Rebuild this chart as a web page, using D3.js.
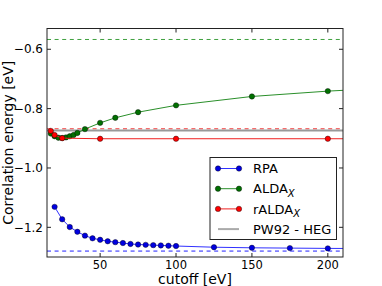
<!DOCTYPE html>
<html>
<head>
<meta charset="utf-8">
<script src="https://cdn.jsdelivr.net/npm/d3@7"></script>
<style>
  body { margin: 0; background: #fff; }
  svg text { font-family: "DejaVu Sans", sans-serif; fill: #000; }
</style>
</head>
<body>
<div id="chart"></div>
<script>
// cutoff energies [eV] and correlation energies [eV]
const rpaCutoff = [20, 25, 30, 35, 40, 45, 50, 55, 60, 65, 70, 75, 80, 85, 90, 95, 100, 125, 150, 175, 200, 250];
const rpaEnergy = [-1.131, -1.173, -1.199, -1.215, -1.228, -1.237, -1.242, -1.247, -1.250, -1.253, -1.256,
                   -1.258, -1.259, -1.260, -1.261, -1.262, -1.263, -1.267, -1.269, -1.270, -1.271, -1.272];

const aldaCutoff = [17.5, 20, 22.5, 25, 27.5, 30, 32.5, 35, 40, 50, 60, 75, 100, 150, 200, 250];
const aldaEnergy = [-0.884, -0.893, -0.898, -0.899, -0.897, -0.893, -0.889, -0.882, -0.869, -0.848,
                    -0.831, -0.812, -0.789, -0.759, -0.741, -0.728];

const raldaCutoff = [17.5, 20, 25, 50, 100, 200, 250];
const raldaEnergy = [-0.875, -0.889, -0.8995, -0.9015, -0.9015, -0.9015, -0.9015];

// extrapolated values (dashed) and the HEG reference
const rpaExtrap = -1.280;
const aldaExtrap = -0.567;
const raldaExtrap = -0.868;
const pw92 = -0.874;

const xTicks = [50, 100, 150, 200];
const yTicks = [-1.2, -1.0, -0.8, -0.6];

const width = 382, height = 286;
const margin = { top: 28.5, right: 39, bottom: 29, left: 47 };
const iw = width - margin.left - margin.right;
const ih = height - margin.top - margin.bottom;

const svg = d3.select('#chart').append('svg')
    .attr('width', width)
    .attr('height', height);

svg.append('defs').append('clipPath')
    .attr('id', 'plotclip')
    .append('rect')
    .attr('width', iw)
    .attr('height', ih);

const g = svg.append('g').attr('transform', `translate(${margin.left},${margin.top})`);

const x = d3.scaleLinear().domain([15, 210]).range([0, iw]);
const y = d3.scaleLinear().domain([-1.3, -0.53]).range([ih, 0]);

const plot = g.append('g').attr('clip-path', 'url(#plotclip)');

// dashed extrapolation lines + reference line
const hlines = [
    { v: aldaExtrap, color: '#3fa03f', dash: '4,3.6', w: 1 },
    { v: raldaExtrap, color: '#f03030', dash: '4,3.6', w: 1 },
    { v: pw92, color: '#999', dash: null, w: 2 },
    { v: rpaExtrap, color: '#2020ff', dash: '4,3.6', w: 1 }
];
hlines.forEach(h => {
    plot.append('line')
        .attr('x1', 0).attr('x2', iw)
        .attr('y1', y(h.v)).attr('y2', y(h.v))
        .attr('stroke', h.color)
        .attr('stroke-width', h.w)
        .attr('stroke-dasharray', h.dash);
});

const series = [
    { name: 'RPA', xs: rpaCutoff, ys: rpaEnergy, line: '#3030ff', fill: '#0000e0' },
    { name: 'ALDA', xs: aldaCutoff, ys: aldaEnergy, line: '#2a8f2a', fill: '#007000' },
    { name: 'rALDA', xs: raldaCutoff, ys: raldaEnergy, line: '#f02020', fill: '#ff0000' }
];

const line = d3.line().x(d => x(d[0])).y(d => y(d[1]));

series.forEach(s => {
    const pts = s.xs.map((c, i) => [c, s.ys[i]]);
    plot.append('path')
        .attr('d', line(pts))
        .attr('fill', 'none')
        .attr('stroke', s.line)
        .attr('stroke-width', 1);
    plot.selectAll(null)
        .data(pts)
        .enter().append('circle')
        .attr('cx', d => x(d[0]))
        .attr('cy', d => y(d[1]))
        .attr('r', 2.7)
        .attr('fill', s.fill)
        .attr('stroke', '#000')
        .attr('stroke-width', 0.4);
});

// frame
g.append('rect')
    .attr('width', iw).attr('height', ih)
    .attr('fill', 'none')
    .attr('stroke', '#222')
    .attr('stroke-width', 1);

// ticks inward on all four sides
const tl = 4;
xTicks.forEach(t => {
    g.append('line').attr('x1', x(t)).attr('x2', x(t)).attr('y1', ih).attr('y2', ih - tl).attr('stroke', '#222');
    g.append('line').attr('x1', x(t)).attr('x2', x(t)).attr('y1', 0).attr('y2', tl).attr('stroke', '#222');
    g.append('text')
        .attr('x', x(t)).attr('y', ih + 11.5)
        .attr('text-anchor', 'middle')
        .style('font-size', '11.5px')
        .text(d3.format('d')(t));
});
yTicks.forEach(t => {
    g.append('line').attr('x1', 0).attr('x2', tl).attr('y1', y(t)).attr('y2', y(t)).attr('stroke', '#222');
    g.append('line').attr('x1', iw).attr('x2', iw - tl).attr('y1', y(t)).attr('y2', y(t)).attr('stroke', '#222');
    g.append('text')
        .attr('x', -4).attr('y', y(t))
        .attr('dy', '0.35em')
        .attr('text-anchor', 'end')
        .style('font-size', '12px')
        .text(d3.format('.1f')(t).replace('-', '\u2212'));
});

// axis labels
svg.append('text')
    .attr('x', margin.left + iw / 2)
    .attr('y', 283.5)
    .attr('text-anchor', 'middle')
    .style('font-size', '14px')
    .text('cutoff [eV]');

svg.append('text')
    .attr('transform', `translate(12.5,${margin.top + ih / 2}) rotate(-90)`)
    .attr('text-anchor', 'middle')
    .style('font-size', '14px')
    .text('Correlation energy [eV]');

// legend
const legend = svg.append('g').attr('transform', 'translate(210,157.5)');
legend.append('rect')
    .attr('width', 126.5).attr('height', 82)
    .attr('fill', '#fff')
    .attr('stroke', '#222')
    .attr('stroke-width', 1);

const legendItems = [
    { label: 'RPA', sub: null, color: series[0].line, fill: series[0].fill, marker: true },
    { label: 'ALDA', sub: 'X', color: series[1].line, fill: series[1].fill, marker: true },
    { label: 'rALDA', sub: 'X', color: series[2].line, fill: series[2].fill, marker: true },
    { label: 'PW92 - HEG', sub: null, color: '#aaa', fill: null, marker: false }
];

legendItems.forEach((it, i) => {
    const ly = 11 + i * 20.2;
    legend.append('line')
        .attr('x1', 8).attr('x2', 29)
        .attr('y1', ly).attr('y2', ly)
        .attr('stroke', it.color)
        .attr('stroke-width', it.marker ? 1 : 2);
    if (it.marker) {
        [8, 29].forEach(mx => {
            legend.append('circle')
                .attr('cx', mx).attr('cy', ly).attr('r', 2.7)
                .attr('fill', it.fill)
                .attr('stroke', '#000')
                .attr('stroke-width', 0.4);
        });
    }
    const t = legend.append('text')
        .attr('x', 43).attr('y', ly + 4.6)
        .style('font-size', '13px')
        .text(it.label);
    if (it.sub) {
        t.append('tspan')
            .attr('dy', 3.5)
            .style('font-size', '10px')
            .style('font-style', 'italic')
            .text(it.sub);
    }
});
</script>
</body>
</html>
